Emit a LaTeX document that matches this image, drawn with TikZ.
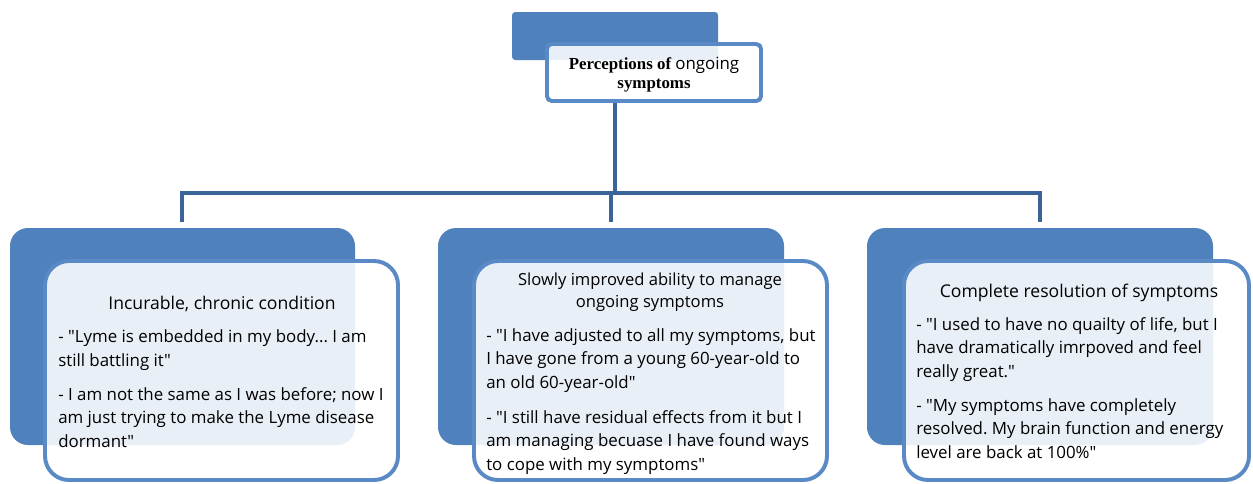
\documentclass[tikz,border=0pt]{standalone}
\usepackage{fontspec}
\setmainfont{Liberation Serif}
\newfontfamily\quotefont{Open Sans}
\usetikzlibrary{fit}
\frenchspacing

\definecolor{boxblue}{HTML}{4F81BD}
\definecolor{edgeblue}{HTML}{5A8AC6}
\definecolor{linkblue}{HTML}{3B6498}

\tikzset{
	backbox/.style={fill=boxblue, inner sep=0pt, rounded corners=0.45cm},
	frontbox/.style={draw=edgeblue, line width=2.8pt, fill=white, fill opacity=0.88, inner sep=0pt, rounded corners=0.6cm},
	link/.style={draw=linkblue, line width=3.5pt},
	heading/.style={font=\quotefont\fontsize{12.5}{15.6}\selectfont, align=center, anchor=base, inner sep=0pt},
	quote/.style={font=\quotefont\fontsize{12}{16.7}\selectfont, align=left, anchor=base west, inner sep=0pt},
}

\begin{document}
\begin{tikzpicture}[x=0.025cm, y=-0.025cm]
		\useasboundingbox (0,0) rectangle (1253,483);
		% top box
		\node[backbox, rounded corners=0.08cm, fit={(512,12) (718,60)}] (topback) {};
		\node[frontbox, rounded corners=0.12cm, fit={(547,44) (761,101)}] (top) {};
		\node[font=\fontsize{12}{13.5}\selectfont\bfseries, align=center, anchor=base, inner sep=0pt] (toptext) at (654,88)
			{Perceptions of {\quotefont\mdseries ongoing}\\symptoms};
		% connectors
		\coordinate (hub) at (615,193);
		\coordinate (jM) at (611,193);
		\coordinate (jL) at (182,193);
		\coordinate (jR) at (1040,193);
		\coordinate (dL) at (182,222);
		\coordinate (dM) at (611,222);
		\coordinate (dR) at (1040,222);
		\draw[link] (hub |- top.south) -- (hub);
		\draw[link] (dL) -- (jL) -- (jR) -- (dR);
		\draw[link] (jM) -- (dM);
		% lower boxes
		\node[backbox, fit={(10,228) (355,445)}] (leftback) {};
		\node[backbox, fit={(438,228) (784,445)}] (midback) {};
		\node[backbox, fit={(867,228) (1213,445)}] (rightback) {};
		\node[frontbox, fit={(45,261) (398,480)}] (left) {};
		\node[frontbox, fit={(474,261) (827,480)}] (mid) {};
		\node[frontbox, fit={(904,261) (1249,480)}] (right) {};
		% left texts
		\node[heading] (lefthead) at (222,309) {Incurable, chronic condition};
		\node[quote] (leftq1) at (58,366) {- "Lyme is embedded in my body... I am\\still battling it"};
		\node[quote] (leftq2) at (58,447) {- I am not the same as I was before; now I\\am just trying to make the Lyme disease\\dormant"};
		% middle texts
		\node[heading, font=\quotefont\fontsize{11.8}{15.6}\selectfont] (midhead) at (650,307) {Slowly improved ability to manage\\ongoing symptoms};
		\node[quote] (midq1) at (486,388) {- "I have adjusted to all my symptoms, but\\I have gone from a young 60-year-old to\\an old 60-year-old"};
		\node[quote] (midq2) at (486,470) {- "I still have residual effects from it but I\\am managing becuase I have found ways\\to cope with my symptoms"};
		% right texts
		\node[heading] (righthead) at (1079,297) {Complete resolution of symptoms};
		\node[quote] (rightq1) at (916,377) {- "I used to have no quailty of life, but I\\have dramatically imrpoved and feel\\really great."};
		\node[quote] (rightq2) at (916,458) {- "My symptoms have completely\\resolved. My brain function and energy\\level are back at 100\%"};
	\end{tikzpicture}
\end{document}
